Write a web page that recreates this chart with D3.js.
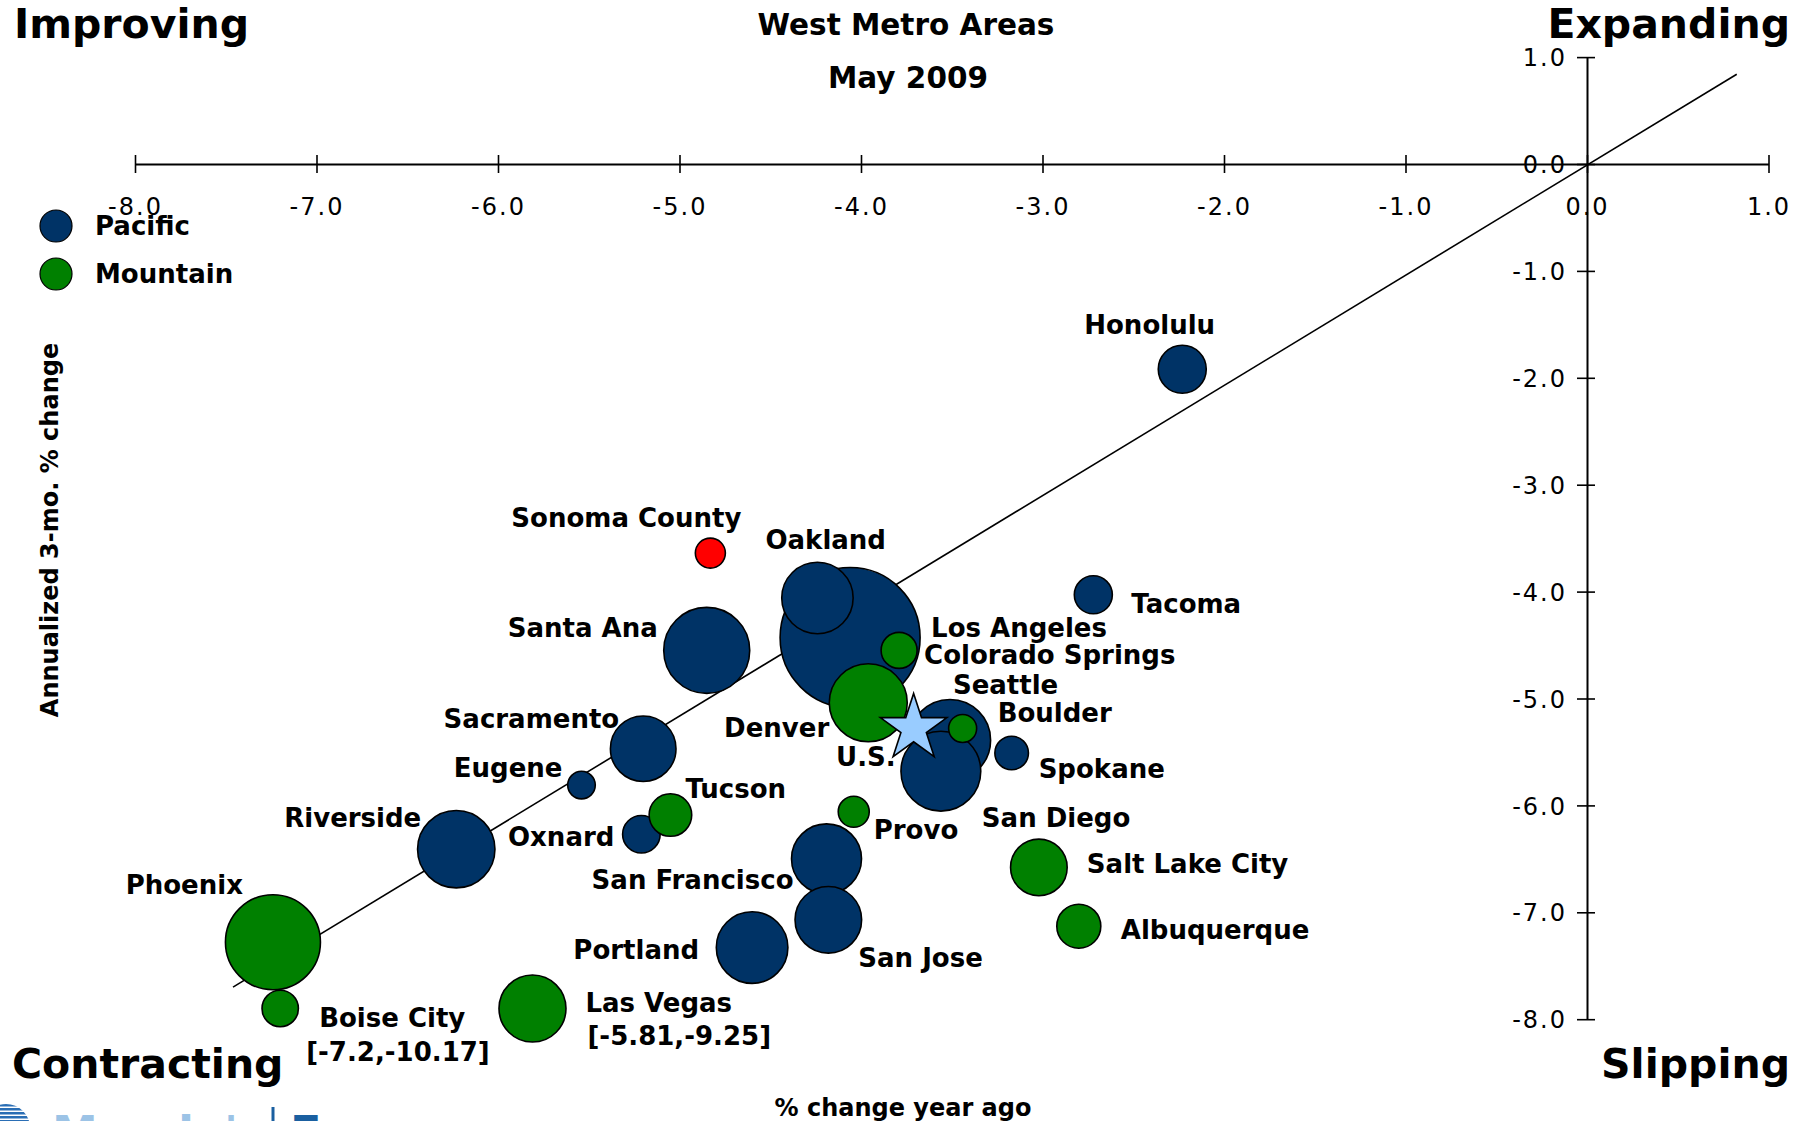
<!DOCTYPE html>
<html>
<head>
<meta charset="utf-8">
<script src="https://cdn.jsdelivr.net/npm/d3@7"></script>
<style>
  body { margin: 0; background: #fff; }
  svg text { font-family: "DejaVu Sans", Verdana, sans-serif; }
</style>
</head>
<body>
<div id="chart"></div>
<script>
// Pacific metros (x = % change year ago, y = annualized 3-mo % change, size = employment, ths)
const pacificNames = ["Los Angeles", "Santa Ana", "Seattle", "San Diego", "Riverside", "Portland", "Oakland",
  "San Francisco", "San Jose", "Sacramento", "Honolulu", "Tacoma", "Oxnard", "Spokane", "Eugene"];
const pacificX = [-4.06, -4.85, -3.51, -3.56, -6.23, -4.60, -4.24, -4.19, -4.18, -5.20, -2.23, -2.72, -5.21, -3.17, -5.54];
const pacificY = [-4.43, -4.55, -5.39, -5.68, -6.41, -7.33, -4.06, -6.50, -7.07, -5.47, -1.92, -4.03, -6.27, -5.51, -5.81];
const pacificSize = [4000, 1509, 1350, 1300, 1222, 1046, 1040, 1000, 905, 878, 470, 295, 288, 230, 155];

// Mountain metros
const mountainNames = ["Phoenix", "Denver", "Las Vegas", "Salt Lake City", "Albuquerque", "Tucson", "Boise City",
  "Colorado Springs", "Provo", "Boulder"];
const mountainX = [-7.24, -3.96, -5.81, -3.02, -2.80, -5.05, -7.20, -3.79, -4.04, -3.44];
const mountainY = [-7.28, -5.04, -9.25, -6.58, -7.13, -6.09, -10.17, -4.55, -6.06, -5.28];
const mountainSize = [1842, 1241, 916, 654, 395, 370, 270, 264, 196, 160];

// highlighted metro and U.S. benchmark
const highlightNames = ["Sonoma County"];
const highlightX = [-4.83];
const highlightY = [-3.64];
const highlightSize = [184];
const usX = -3.71, usY = -5.28;

// reference diagonal
const diagX = [-7.46, 0.825];
const diagY = [-7.70, 0.84];

const xTicks = [-8, -7, -6, -5, -4, -3, -2, -1, 0, 1];
const yTicks = [1, 0, -1, -2, -3, -4, -5, -6, -7, -8];
const yFloor = -7.9; // off-scale points are pinned here and labelled with their real values

// where each label sits relative to its bubble (px)
const labelPos = {
  "Los Angeles": ["start", 81, -1], "Santa Ana": ["end", -49, -13], "Seattle": ["start", 3, -46],
  "San Diego": ["start", 41, 56], "Riverside": ["end", -35, -22], "Portland": ["end", -53, 11],
  "Oakland": ["start", -52, -49], "San Francisco": ["end", -33, 30], "San Jose": ["start", 30, 47],
  "Sacramento": ["end", -24, -21], "Honolulu": ["start", -98, -35], "Tacoma": ["start", 38, 18],
  "Oxnard": ["end", -27, 12], "Spokane": ["start", 27, 25], "Eugene": ["end", -19, -8],
  "Phoenix": ["end", -30, -48], "Denver": ["end", -39, 34], "Las Vegas": ["start", 53, 3],
  "Salt Lake City": ["start", 48, 6], "Albuquerque": ["start", 42, 13], "Tucson": ["start", 15, -17],
  "Boise City": ["start", 39, 18], "Colorado Springs": ["start", 25, 14], "Provo": ["start", 20, 27],
  "Boulder": ["start", 35, -6], "Sonoma County": ["end", 31, -26], "U.S.": ["end", -18, 38]
};
const noteOffset = { "Las Vegas": [55, 36], "Boise City": [26, 52] };

const colors = { Pacific: "#003366", Mountain: "#008000", Highlight: "#ff0000", US: "#99ccff" };

const W = 1811, H = 1121;
const svg = d3.select("#chart").append("svg")
    .attr("width", W)
    .attr("height", H);

const x = d3.scaleLinear().domain([-8, 1]).range([135, 1768.5]);
const y = d3.scaleLinear().domain([1, -8]).range([57.1, 1019.2]);
const r = d3.scaleSqrt().domain([0, 4000]).range([0, 70]);

function series(names, xs, ys, sizes, group) {
  return names.map((n, i) => ({ name: n, x: xs[i], y: ys[i], size: sizes[i], group: group }));
}
const points = series(pacificNames, pacificX, pacificY, pacificSize, "Pacific")
  .concat(series(mountainNames, mountainX, mountainY, mountainSize, "Mountain"))
  .concat(series(highlightNames, highlightX, highlightY, highlightSize, "Highlight"));

const px = d => x(d.x);
const py = d => y(Math.max(d.y, yFloor));

// x axis
const gx = svg.append("g")
    .attr("transform", "translate(0," + y(0) + ")")
    .call(d3.axisBottom(x).tickValues(xTicks).tickFormat(d => d.toFixed(1)).tickSizeOuter(0));
gx.select(".domain").attr("stroke-width", 2);
gx.selectAll(".tick line").attr("y1", -9).attr("y2", 9).attr("stroke-width", 1.6);
gx.selectAll(".tick text")
    .attr("y", 51).attr("dy", null)
    .attr("font-size", 24).attr("letter-spacing", 2)
    .attr("font-family", "DejaVu Sans").attr("fill", "#000");

// y axis
const gy = svg.append("g")
    .attr("transform", "translate(" + x(0) + ",0)")
    .call(d3.axisLeft(y).tickValues(yTicks).tickFormat(d => d.toFixed(1)).tickSizeOuter(0));
gy.select(".domain").attr("stroke-width", 2);
gy.selectAll(".tick line").attr("x1", 8).attr("x2", -10).attr("stroke-width", 1.6);
gy.selectAll(".tick text")
    .attr("x", -20).attr("dy", "0.36em")
    .attr("font-size", 24).attr("letter-spacing", 2)
    .attr("font-family", "DejaVu Sans").attr("fill", "#000");

// diagonal
svg.append("line")
    .attr("x1", x(diagX[0])).attr("y1", y(diagY[0]))
    .attr("x2", x(diagX[1])).attr("y2", y(diagY[1]))
    .attr("stroke", "#000").attr("stroke-width", 1.6);

// bubbles
svg.append("g").selectAll("circle")
  .data(points)
  .join("circle")
    .attr("cx", px).attr("cy", py)
    .attr("r", d => r(d.size))
    .attr("fill", d => colors[d.group])
    .attr("stroke", "#000").attr("stroke-width", 1.6);

// U.S. star
svg.append("path")
    .attr("d", d3.symbol(d3.symbolStar, 35 * 35 / 0.8908130915292852)())
    .attr("transform", "translate(" + x(usX) + "," + y(usY) + ")")
    .attr("fill", colors.US).attr("stroke", "#000").attr("stroke-width", 1.6);

// labels
const labels = points.map(d => ({ name: d.name, cx: px(d), cy: py(d), off: d.y < yFloor ? d : null }))
  .concat([{ name: "U.S.", cx: x(usX), cy: y(usY), off: null }]);
const lg = svg.append("g").attr("font-size", 26).attr("font-weight", "bold");
labels.forEach(l => {
  const p = labelPos[l.name];
  lg.append("text")
      .attr("x", l.cx + p[1]).attr("y", l.cy + p[2])
      .attr("text-anchor", p[0])
      .text(l.name);
  if (l.off) {
    const o = noteOffset[l.name];
    lg.append("text")
        .attr("x", l.cx + o[0]).attr("y", l.cy + o[1])
        .text("[" + l.off.x + "," + l.off.y + "]");
  }
});

// legend
const legend = svg.append("g");
[["Pacific", 226], ["Mountain", 274]].forEach(([k, ly]) => {
  legend.append("circle").attr("cx", 56).attr("cy", ly).attr("r", 16)
      .attr("fill", colors[k]).attr("stroke", "#000").attr("stroke-width", 1.2);
  legend.append("text").attr("x", 95).attr("y", ly + 8.5)
      .attr("font-size", 26).attr("font-weight", "bold").text(k);
});

// titles
svg.append("text").attr("x", 906).attr("y", 35).attr("text-anchor", "middle")
    .attr("font-size", 29.5).attr("font-weight", "bold").text("West Metro Areas");
svg.append("text").attr("x", 908).attr("y", 88).attr("text-anchor", "middle")
    .attr("font-size", 29.5).attr("font-weight", "bold").text("May 2009");

// quadrant names
const corner = svg.append("g").attr("font-size", 41).attr("font-weight", "bold");
corner.append("text").attr("x", 14).attr("y", 38).text("Improving");
corner.append("text").attr("x", 1790).attr("y", 38).attr("text-anchor", "end").text("Expanding");
corner.append("text").attr("x", 12).attr("y", 1078).text("Contracting");
corner.append("text").attr("x", 1790).attr("y", 1078).attr("text-anchor", "end").text("Slipping");

// axis titles
svg.append("text").attr("x", 903).attr("y", 1116).attr("text-anchor", "middle")
    .attr("font-size", 24).attr("font-weight", "bold").text("% change year ago");
svg.append("text")
    .attr("transform", "translate(58,530) rotate(-90)")
    .attr("text-anchor", "middle")
    .attr("font-size", 24).attr("font-weight", "bold").text("Annualized 3-mo. % change");

// source logo (cut off by the bottom edge)
const logo = svg.append("g");
logo.append("clipPath").attr("id", "globe")
  .append("circle").attr("cx", 6).attr("cy", 1128).attr("r", 24);
d3.range(1104, 1121, 4).forEach(sy => {
  logo.append("rect").attr("x", -20).attr("y", sy).attr("width", 50).attr("height", 2.5)
      .attr("fill", "#2a6eb5").attr("clip-path", "url(#globe)");
});
logo.append("text").attr("x", 52).attr("y", 1149).attr("font-size", 46).attr("font-weight", "bold")
    .attr("fill", "#9cc3e6").text("Moody's");
logo.append("line").attr("x1", 273).attr("x2", 273).attr("y1", 1107).attr("y2", 1121)
    .attr("stroke", "#1a5fa0").attr("stroke-width", 3);
logo.append("text").attr("x", 290).attr("y", 1149).attr("font-size", 46).attr("font-weight", "bold")
    .attr("fill", "#1a5fa0").text("Economy.com");
</script>
</body>
</html>
